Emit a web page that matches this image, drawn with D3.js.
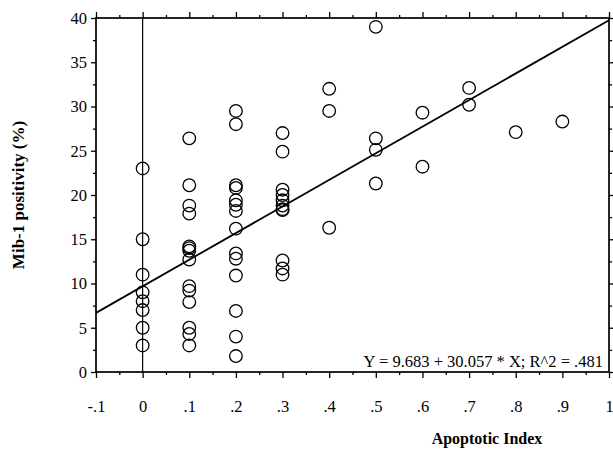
<!DOCTYPE html>
<html>
<head>
<meta charset="utf-8">
<script src="https://cdn.jsdelivr.net/npm/d3@7"></script>
<style>
  body { margin: 0; background: #fff; }
  text { font-family: "Liberation Serif", "DejaVu Serif", serif; fill: #000; }
</style>
</head>
<body>
<div id="chart"></div>
<script>
// apoptotic index (x) and Mib-1 positivity (y)
var xVals = [
  0, 0, 0, 0, 0, 0, 0, 0,
  .1, .1, .1, .1, .1, .1, .1, .1, .1, .1, .1, .1, .1, .1,
  .2, .2, .2, .2, .2, .2, .2, .2, .2, .2, .2, .2, .2, .2,
  .3, .3, .3, .3, .3, .3, .3, .3, .3, .3, .3,
  .4, .4, .4,
  .5, .5, .5, .5,
  .6, .6,
  .7, .7,
  .8,
  .9
]
var yVals = [
  23, 15, 11, 9, 8, 7, 5, 3,
  26.4, 21.1, 18.8, 17.9, 14.2, 14.0, 13.7, 12.7, 9.7, 9.2, 7.9, 5.0, 4.3, 3.0,
  29.5, 28.0, 21.1, 20.8, 19.4, 18.9, 18.2, 16.2, 13.4, 12.8, 10.9, 6.9, 4.0, 1.8,
  27.0, 24.9, 20.6, 20.0, 19.4, 18.8, 18.4, 18.3, 12.6, 11.7, 11.0,
  32.0, 29.5, 16.3,
  39.0, 26.4, 25.1, 21.3,
  29.3, 23.2,
  32.1, 30.2,
  27.1,
  28.3
]
var xTicks = [-.1, 0, .1, .2, .3, .4, .5, .6, .7, .8, .9, 1]
var xTickLabels = ["-.1", "0", ".1", ".2", ".3", ".4", ".5", ".6", ".7", ".8", ".9", "1"]
var yTicks = [0, 5, 10, 15, 20, 25, 30, 35, 40]
var fit = { a: 9.683, b: 30.057 }
var fitLabel = "Y = 9.683 + 30.057 * X; R^2 = .481"

let width = 613
let height = 453
let mLeft = 96, mRight = 609, mTop = 18, mBottom = 372

let svg = d3.select("#chart")
  .append("svg")
  .attr("width", width)
  .attr("height", height)

let x = d3.scaleLinear().domain([-.1, 1]).range([mLeft, mRight])
let y = d3.scaleLinear().domain([0, 40]).range([mBottom, mTop])

// minor ticks halfway between majors
let xMinor = d3.range(-.05, 1, .1)
let yMinor = d3.range(2.5, 40, 5)

function axisStyle(g) {
  g.select(".domain").remove()
  g.selectAll("line").attr("stroke", "#000").attr("stroke-width", 1.3)
  g.selectAll("text").style("font-size", "16.5px")
}

// bottom
svg.append("g").attr("transform", "translate(0," + mBottom + ")")
  .call(d3.axisBottom(x).tickValues(xTicks).tickSize(6).tickPadding(22)
    .tickFormat((d, i) => xTickLabels[i]))
  .call(axisStyle)
svg.append("g").attr("transform", "translate(0," + mBottom + ")")
  .call(d3.axisBottom(x).tickValues(xMinor).tickSize(3).tickFormat(""))
  .call(axisStyle)
// top
svg.append("g").attr("transform", "translate(0," + mTop + ")")
  .call(d3.axisTop(x).tickValues(xTicks).tickSize(6).tickFormat(""))
  .call(axisStyle)
svg.append("g").attr("transform", "translate(0," + mTop + ")")
  .call(d3.axisTop(x).tickValues(xMinor).tickSize(3).tickFormat(""))
  .call(axisStyle)
// left
svg.append("g").attr("transform", "translate(" + mLeft + ",0)")
  .call(d3.axisLeft(y).tickValues(yTicks).tickSize(5).tickPadding(4))
  .call(axisStyle)
svg.append("g").attr("transform", "translate(" + mLeft + ",0)")
  .call(d3.axisLeft(y).tickValues(yMinor).tickSize(3).tickFormat(""))
  .call(axisStyle)
// right
svg.append("g").attr("transform", "translate(" + mRight + ",0)")
  .call(d3.axisRight(y).tickValues(yTicks).tickSize(5).tickFormat(""))
  .call(axisStyle)
svg.append("g").attr("transform", "translate(" + mRight + ",0)")
  .call(d3.axisRight(y).tickValues(yMinor).tickSize(3).tickFormat(""))
  .call(axisStyle)

// frame
svg.append("rect")
  .attr("x", mLeft).attr("y", mTop)
  .attr("width", mRight - mLeft).attr("height", mBottom - mTop)
  .attr("fill", "none").attr("stroke", "#000").attr("stroke-width", 1.7)

// vertical reference line at x = 0
svg.append("line")
  .attr("x1", x(0)).attr("x2", x(0))
  .attr("y1", mTop).attr("y2", mBottom)
  .attr("stroke", "#000").attr("stroke-width", 1.2)

// regression line
svg.append("line")
  .attr("x1", x(-.1)).attr("y1", y(fit.a + fit.b * -.1))
  .attr("x2", x(1)).attr("y2", y(fit.a + fit.b * 1))
  .attr("stroke", "#000").attr("stroke-width", 1.8)

// points
svg.append("g")
  .selectAll("circle")
  .data(xVals)
  .enter().append("circle")
    .attr("cx", d => x(d))
    .attr("cy", (d, i) => y(yVals[i]))
    .attr("r", 6.3)
    .attr("fill", "none")
    .attr("stroke", "#000")
    .attr("stroke-width", 1.3)

// equation
svg.append("text")
  .attr("x", mRight - 6).attr("y", mBottom - 5)
  .attr("text-anchor", "end")
  .style("font-size", "16.5px")
  .text(fitLabel)

// axis titles
svg.append("text")
  .attr("transform", "translate(24," + ((mTop + mBottom) / 2) + ") rotate(-90)")
  .attr("text-anchor", "middle")
  .style("font-size", "17px").style("font-weight", "bold")
  .text("Mib-1 positivity (%)")

svg.append("text")
  .attr("x", 487).attr("y", 444)
  .attr("text-anchor", "middle")
  .style("font-size", "16px").style("font-weight", "bold")
  .text("Apoptotic Index")
</script>
</body>
</html>
